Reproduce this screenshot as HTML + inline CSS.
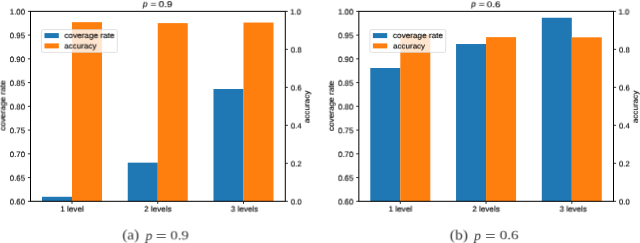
<!DOCTYPE html>
<html><head><meta charset="utf-8"><style>
html,body{margin:0;padding:0;background:#fff;width:640px;height:243px;overflow:hidden}
svg.M{display:block;position:absolute;left:0;top:0}
svg.L{position:absolute;left:0;top:0;overflow:visible;transform-origin:0 0}
body{position:relative}
text{text-rendering:geometricPrecision;fill:#000;font-family:"Liberation Sans",sans-serif;stroke:#000;stroke-width:0.12px}
text.s{stroke-width:0.0px;fill:#333;stroke:#333}
text.t{stroke-width:0.12px}
text.s{font-family:"Liberation Serif",serif}
</style></head><body>
<svg class="M" width="640" height="243" viewBox="0 0 640 243">
<rect x="42.00" y="196.78" width="30.00" height="4.52" fill="#1f77b4"/>
<rect x="127.75" y="162.64" width="30.00" height="38.66" fill="#1f77b4"/>
<rect x="213.50" y="89.01" width="30.00" height="112.29" fill="#1f77b4"/>
<rect x="72.00" y="22.16" width="30.00" height="179.14" fill="#ff7f0e"/>
<rect x="157.75" y="23.11" width="30.00" height="178.19" fill="#ff7f0e"/>
<rect x="243.50" y="22.54" width="30.00" height="178.76" fill="#ff7f0e"/>
<rect x="30.50" y="11.35" width="254.80" height="189.95" fill="none" stroke="#000" stroke-width="1.0"/>
<line x1="27.90" y1="201.30" x2="30.50" y2="201.30" stroke="#000" stroke-width="0.8"/>
<line x1="27.90" y1="177.56" x2="30.50" y2="177.56" stroke="#000" stroke-width="0.8"/>
<line x1="27.90" y1="153.81" x2="30.50" y2="153.81" stroke="#000" stroke-width="0.8"/>
<line x1="27.90" y1="130.07" x2="30.50" y2="130.07" stroke="#000" stroke-width="0.8"/>
<line x1="27.90" y1="106.32" x2="30.50" y2="106.32" stroke="#000" stroke-width="0.8"/>
<line x1="27.90" y1="82.58" x2="30.50" y2="82.58" stroke="#000" stroke-width="0.8"/>
<line x1="27.90" y1="58.84" x2="30.50" y2="58.84" stroke="#000" stroke-width="0.8"/>
<line x1="27.90" y1="35.09" x2="30.50" y2="35.09" stroke="#000" stroke-width="0.8"/>
<line x1="27.90" y1="11.35" x2="30.50" y2="11.35" stroke="#000" stroke-width="0.8"/>
<line x1="285.30" y1="201.30" x2="287.90" y2="201.30" stroke="#000" stroke-width="0.8"/>
<line x1="285.30" y1="163.31" x2="287.90" y2="163.31" stroke="#000" stroke-width="0.8"/>
<line x1="285.30" y1="125.32" x2="287.90" y2="125.32" stroke="#000" stroke-width="0.8"/>
<line x1="285.30" y1="87.33" x2="287.90" y2="87.33" stroke="#000" stroke-width="0.8"/>
<line x1="285.30" y1="49.34" x2="287.90" y2="49.34" stroke="#000" stroke-width="0.8"/>
<line x1="285.30" y1="11.35" x2="287.90" y2="11.35" stroke="#000" stroke-width="0.8"/>
<line x1="72.00" y1="201.30" x2="72.00" y2="203.90" stroke="#000" stroke-width="0.8"/>
<line x1="157.75" y1="201.30" x2="157.75" y2="203.90" stroke="#000" stroke-width="0.8"/>
<line x1="243.50" y1="201.30" x2="243.50" y2="203.90" stroke="#000" stroke-width="0.8"/>
<rect x="41.50" y="29.60" width="75.80" height="22.80" rx="1.4" fill="#fff" fill-opacity="0.8" stroke="#cccccc" stroke-width="0.6"/>
<rect x="44.50" y="33.1" width="14.3" height="5.0" fill="#1f77b4"/>
<rect x="44.50" y="43.4" width="14.3" height="5.0" fill="#ff7f0e"/>
<rect x="370.30" y="68.01" width="30.00" height="133.29" fill="#1f77b4"/>
<rect x="456.05" y="44.02" width="30.00" height="157.28" fill="#1f77b4"/>
<rect x="541.80" y="17.75" width="30.00" height="183.55" fill="#1f77b4"/>
<rect x="400.30" y="34.68" width="30.00" height="166.62" fill="#ff7f0e"/>
<rect x="486.05" y="37.14" width="30.00" height="164.16" fill="#ff7f0e"/>
<rect x="571.80" y="37.33" width="30.00" height="163.97" fill="#ff7f0e"/>
<rect x="358.85" y="11.35" width="254.65" height="189.95" fill="none" stroke="#000" stroke-width="1.0"/>
<line x1="356.25" y1="201.30" x2="358.85" y2="201.30" stroke="#000" stroke-width="0.8"/>
<line x1="356.25" y1="177.56" x2="358.85" y2="177.56" stroke="#000" stroke-width="0.8"/>
<line x1="356.25" y1="153.81" x2="358.85" y2="153.81" stroke="#000" stroke-width="0.8"/>
<line x1="356.25" y1="130.07" x2="358.85" y2="130.07" stroke="#000" stroke-width="0.8"/>
<line x1="356.25" y1="106.32" x2="358.85" y2="106.32" stroke="#000" stroke-width="0.8"/>
<line x1="356.25" y1="82.58" x2="358.85" y2="82.58" stroke="#000" stroke-width="0.8"/>
<line x1="356.25" y1="58.84" x2="358.85" y2="58.84" stroke="#000" stroke-width="0.8"/>
<line x1="356.25" y1="35.09" x2="358.85" y2="35.09" stroke="#000" stroke-width="0.8"/>
<line x1="356.25" y1="11.35" x2="358.85" y2="11.35" stroke="#000" stroke-width="0.8"/>
<line x1="613.50" y1="201.30" x2="616.10" y2="201.30" stroke="#000" stroke-width="0.8"/>
<line x1="613.50" y1="163.31" x2="616.10" y2="163.31" stroke="#000" stroke-width="0.8"/>
<line x1="613.50" y1="125.32" x2="616.10" y2="125.32" stroke="#000" stroke-width="0.8"/>
<line x1="613.50" y1="87.33" x2="616.10" y2="87.33" stroke="#000" stroke-width="0.8"/>
<line x1="613.50" y1="49.34" x2="616.10" y2="49.34" stroke="#000" stroke-width="0.8"/>
<line x1="613.50" y1="11.35" x2="616.10" y2="11.35" stroke="#000" stroke-width="0.8"/>
<line x1="400.30" y1="201.30" x2="400.30" y2="203.90" stroke="#000" stroke-width="0.8"/>
<line x1="486.05" y1="201.30" x2="486.05" y2="203.90" stroke="#000" stroke-width="0.8"/>
<line x1="571.80" y1="201.30" x2="571.80" y2="203.90" stroke="#000" stroke-width="0.8"/>
<rect x="369.90" y="29.60" width="75.80" height="22.80" rx="1.4" fill="#fff" fill-opacity="0.8" stroke="#cccccc" stroke-width="0.6"/>
<rect x="372.90" y="33.1" width="14.3" height="5.0" fill="#1f77b4"/>
<rect x="372.90" y="43.4" width="14.3" height="5.0" fill="#ff7f0e"/>
</svg>
<svg class="L" width="140" height="48" style="transform:translate3d(-44.970px,180.470px,0) rotate(0.001deg)"><text x="70" y="24" font-size="7.750" text-anchor="end" textLength="15.200" lengthAdjust="spacingAndGlyphs">0.60</text></svg>
<svg class="L" width="140" height="48" style="transform:translate3d(-44.970px,156.726px,0) rotate(0.001deg)"><text x="70" y="24" font-size="7.750" text-anchor="end" textLength="15.200" lengthAdjust="spacingAndGlyphs">0.65</text></svg>
<svg class="L" width="140" height="48" style="transform:translate3d(-44.970px,132.983px,0) rotate(0.001deg)"><text x="70" y="24" font-size="7.750" text-anchor="end" textLength="15.200" lengthAdjust="spacingAndGlyphs">0.70</text></svg>
<svg class="L" width="140" height="48" style="transform:translate3d(-44.970px,109.239px,0) rotate(0.001deg)"><text x="70" y="24" font-size="7.750" text-anchor="end" textLength="15.200" lengthAdjust="spacingAndGlyphs">0.75</text></svg>
<svg class="L" width="140" height="48" style="transform:translate3d(-44.970px,85.495px,0) rotate(0.001deg)"><text x="70" y="24" font-size="7.750" text-anchor="end" textLength="15.200" lengthAdjust="spacingAndGlyphs">0.80</text></svg>
<svg class="L" width="140" height="48" style="transform:translate3d(-44.970px,61.751px,0) rotate(0.001deg)"><text x="70" y="24" font-size="7.750" text-anchor="end" textLength="15.200" lengthAdjust="spacingAndGlyphs">0.85</text></svg>
<svg class="L" width="140" height="48" style="transform:translate3d(-44.970px,38.007px,0) rotate(0.001deg)"><text x="70" y="24" font-size="7.750" text-anchor="end" textLength="15.200" lengthAdjust="spacingAndGlyphs">0.90</text></svg>
<svg class="L" width="140" height="48" style="transform:translate3d(-44.970px,14.264px,0) rotate(0.001deg)"><text x="70" y="24" font-size="7.750" text-anchor="end" textLength="15.200" lengthAdjust="spacingAndGlyphs">0.95</text></svg>
<svg class="L" width="140" height="48" style="transform:translate3d(-44.970px,-9.480px,0) rotate(0.001deg)"><text x="70" y="24" font-size="7.750" text-anchor="end" textLength="15.200" lengthAdjust="spacingAndGlyphs">1.00</text></svg>
<svg class="L" width="140" height="48" style="transform:translate3d(220.800px,180.470px,0) rotate(0.001deg)"><text x="70" y="24" font-size="7.700" textLength="10.700" lengthAdjust="spacingAndGlyphs">0.0</text></svg>
<svg class="L" width="140" height="48" style="transform:translate3d(220.800px,142.480px,0) rotate(0.001deg)"><text x="70" y="24" font-size="7.700" textLength="10.700" lengthAdjust="spacingAndGlyphs">0.2</text></svg>
<svg class="L" width="140" height="48" style="transform:translate3d(220.800px,104.490px,0) rotate(0.001deg)"><text x="70" y="24" font-size="7.700" textLength="10.700" lengthAdjust="spacingAndGlyphs">0.4</text></svg>
<svg class="L" width="140" height="48" style="transform:translate3d(220.800px,66.500px,0) rotate(0.001deg)"><text x="70" y="24" font-size="7.700" textLength="10.700" lengthAdjust="spacingAndGlyphs">0.6</text></svg>
<svg class="L" width="140" height="48" style="transform:translate3d(220.800px,28.510px,0) rotate(0.001deg)"><text x="70" y="24" font-size="7.700" textLength="10.700" lengthAdjust="spacingAndGlyphs">0.8</text></svg>
<svg class="L" width="140" height="48" style="transform:translate3d(220.300px,-9.480px,0) rotate(0.001deg)"><text x="70" y="24" font-size="7.700" textLength="10.700" lengthAdjust="spacingAndGlyphs">1.0</text></svg>
<svg class="L" width="140" height="48" style="transform:translate3d(2.100px,187.600px,0) rotate(0.001deg)"><text x="70" y="24" font-size="7.780" text-anchor="middle" textLength="23.750" lengthAdjust="spacingAndGlyphs">1 level</text></svg>
<svg class="L" width="140" height="48" style="transform:translate3d(87.850px,187.600px,0) rotate(0.001deg)"><text x="70" y="24" font-size="7.780" text-anchor="middle" textLength="27.600" lengthAdjust="spacingAndGlyphs">2 levels</text></svg>
<svg class="L" width="140" height="48" style="transform:translate3d(174.600px,187.600px,0) rotate(0.001deg)"><text x="70" y="24" font-size="7.780" text-anchor="middle" textLength="27.300" lengthAdjust="spacingAndGlyphs">3 levels</text></svg>
<svg class="L" width="140" height="48" style="transform:translate3d(-5.584px,14.038px,0) rotate(0.001deg)"><text x="70" y="24" font-size="7.753" textLength="50.191" lengthAdjust="spacingAndGlyphs">coverage rate</text></svg>
<svg class="L" width="140" height="48" style="transform:translate3d(-5.688px,24.505px,0) rotate(0.001deg)"><text x="70" y="24" font-size="7.723" textLength="32.256" lengthAdjust="spacingAndGlyphs">accuracy</text></svg>
<svg class="L" width="140" height="48" style="transform:translate3d(283.380px,180.470px,0) rotate(0.001deg)"><text x="70" y="24" font-size="7.750" text-anchor="end" textLength="15.200" lengthAdjust="spacingAndGlyphs">0.60</text></svg>
<svg class="L" width="140" height="48" style="transform:translate3d(283.380px,156.726px,0) rotate(0.001deg)"><text x="70" y="24" font-size="7.750" text-anchor="end" textLength="15.200" lengthAdjust="spacingAndGlyphs">0.65</text></svg>
<svg class="L" width="140" height="48" style="transform:translate3d(283.380px,132.983px,0) rotate(0.001deg)"><text x="70" y="24" font-size="7.750" text-anchor="end" textLength="15.200" lengthAdjust="spacingAndGlyphs">0.70</text></svg>
<svg class="L" width="140" height="48" style="transform:translate3d(283.380px,109.239px,0) rotate(0.001deg)"><text x="70" y="24" font-size="7.750" text-anchor="end" textLength="15.200" lengthAdjust="spacingAndGlyphs">0.75</text></svg>
<svg class="L" width="140" height="48" style="transform:translate3d(283.380px,85.495px,0) rotate(0.001deg)"><text x="70" y="24" font-size="7.750" text-anchor="end" textLength="15.200" lengthAdjust="spacingAndGlyphs">0.80</text></svg>
<svg class="L" width="140" height="48" style="transform:translate3d(283.380px,61.751px,0) rotate(0.001deg)"><text x="70" y="24" font-size="7.750" text-anchor="end" textLength="15.200" lengthAdjust="spacingAndGlyphs">0.85</text></svg>
<svg class="L" width="140" height="48" style="transform:translate3d(283.380px,38.007px,0) rotate(0.001deg)"><text x="70" y="24" font-size="7.750" text-anchor="end" textLength="15.200" lengthAdjust="spacingAndGlyphs">0.90</text></svg>
<svg class="L" width="140" height="48" style="transform:translate3d(283.380px,14.264px,0) rotate(0.001deg)"><text x="70" y="24" font-size="7.750" text-anchor="end" textLength="15.200" lengthAdjust="spacingAndGlyphs">0.95</text></svg>
<svg class="L" width="140" height="48" style="transform:translate3d(283.380px,-9.480px,0) rotate(0.001deg)"><text x="70" y="24" font-size="7.750" text-anchor="end" textLength="15.200" lengthAdjust="spacingAndGlyphs">1.00</text></svg>
<svg class="L" width="140" height="48" style="transform:translate3d(549.000px,180.470px,0) rotate(0.001deg)"><text x="70" y="24" font-size="7.700" textLength="10.700" lengthAdjust="spacingAndGlyphs">0.0</text></svg>
<svg class="L" width="140" height="48" style="transform:translate3d(549.000px,142.480px,0) rotate(0.001deg)"><text x="70" y="24" font-size="7.700" textLength="10.700" lengthAdjust="spacingAndGlyphs">0.2</text></svg>
<svg class="L" width="140" height="48" style="transform:translate3d(549.000px,104.490px,0) rotate(0.001deg)"><text x="70" y="24" font-size="7.700" textLength="10.700" lengthAdjust="spacingAndGlyphs">0.4</text></svg>
<svg class="L" width="140" height="48" style="transform:translate3d(549.000px,66.500px,0) rotate(0.001deg)"><text x="70" y="24" font-size="7.700" textLength="10.700" lengthAdjust="spacingAndGlyphs">0.6</text></svg>
<svg class="L" width="140" height="48" style="transform:translate3d(549.000px,28.510px,0) rotate(0.001deg)"><text x="70" y="24" font-size="7.700" textLength="10.700" lengthAdjust="spacingAndGlyphs">0.8</text></svg>
<svg class="L" width="140" height="48" style="transform:translate3d(548.500px,-9.480px,0) rotate(0.001deg)"><text x="70" y="24" font-size="7.700" textLength="10.700" lengthAdjust="spacingAndGlyphs">1.0</text></svg>
<svg class="L" width="140" height="48" style="transform:translate3d(330.400px,187.600px,0) rotate(0.001deg)"><text x="70" y="24" font-size="7.780" text-anchor="middle" textLength="23.750" lengthAdjust="spacingAndGlyphs">1 level</text></svg>
<svg class="L" width="140" height="48" style="transform:translate3d(416.150px,187.600px,0) rotate(0.001deg)"><text x="70" y="24" font-size="7.780" text-anchor="middle" textLength="27.600" lengthAdjust="spacingAndGlyphs">2 levels</text></svg>
<svg class="L" width="140" height="48" style="transform:translate3d(503.400px,187.600px,0) rotate(0.001deg)"><text x="70" y="24" font-size="7.780" text-anchor="middle" textLength="27.300" lengthAdjust="spacingAndGlyphs">3 levels</text></svg>
<svg class="L" width="140" height="48" style="transform:translate3d(322.835px,14.033px,0) rotate(0.001deg)"><text x="70" y="24" font-size="7.759" textLength="50.145" lengthAdjust="spacingAndGlyphs">coverage rate</text></svg>
<svg class="L" width="140" height="48" style="transform:translate3d(323.020px,24.530px,0) rotate(0.001deg)"><text x="70" y="24" font-size="7.662" textLength="32.137" lengthAdjust="spacingAndGlyphs">accuracy</text></svg>
<svg class="L" width="140" height="48" style="transform:translate3d(72.844px,-17.310px,0) rotate(0.001deg)"><text x="70" y="24" font-size="8.362" class="t" font-style="italic">p</text></svg>
<svg class="L" width="140" height="48" style="transform:translate3d(80.631px,-17.202px,0) rotate(0.001deg)"><text x="70" y="24" font-size="7.640" class="t" textLength="5.663" lengthAdjust="spacingAndGlyphs">=</text></svg>
<svg class="L" width="140" height="48" style="transform:translate3d(88.612px,-16.820px,0) rotate(0.001deg)"><text x="70" y="24" font-size="8.490" class="t" textLength="13.750" lengthAdjust="spacingAndGlyphs">0.9</text></svg>
<svg class="L" width="140" height="48" style="transform:translate3d(401.316px,-17.348px,0) rotate(0.001deg)"><text x="70" y="24" font-size="8.260" class="t" font-style="italic">p</text></svg>
<svg class="L" width="140" height="48" style="transform:translate3d(408.761px,-17.200px,0) rotate(0.001deg)"><text x="70" y="24" font-size="7.620" class="t" textLength="5.950" lengthAdjust="spacingAndGlyphs">=</text></svg>
<svg class="L" width="140" height="48" style="transform:translate3d(416.705px,-16.758px,0) rotate(0.001deg)"><text x="70" y="24" font-size="8.337" class="t" textLength="13.653" lengthAdjust="spacingAndGlyphs">0.6</text></svg>
<svg class="L" width="140" height="48" style="transform:translate3d(52.329px,215.458px,0) rotate(0.001deg)"><text x="70" y="24" font-size="14.328" class="s" textLength="16.943" lengthAdjust="spacingAndGlyphs">(a)</text></svg>
<svg class="L" width="140" height="48" style="transform:translate3d(75.554px,216.074px,0) rotate(0.001deg)"><text x="70" y="24" font-size="13.623" class="s" font-style="italic">p</text></svg>
<svg class="L" width="140" height="48" style="transform:translate3d(85.680px,216.996px,0) rotate(0.001deg)"><text x="70" y="24" font-size="14.903" class="s" textLength="11.048" lengthAdjust="spacingAndGlyphs">=</text></svg>
<svg class="L" width="140" height="48" style="transform:translate3d(100.400px,215.387px,0) rotate(0.001deg)"><text x="70" y="24" font-size="12.585" class="s" textLength="18.491" lengthAdjust="spacingAndGlyphs">0.9</text></svg>
<svg class="L" width="140" height="48" style="transform:translate3d(379.766px,215.600px,0) rotate(0.001deg)"><text x="70" y="24" font-size="14.153" class="s" textLength="18.226" lengthAdjust="spacingAndGlyphs">(b)</text></svg>
<svg class="L" width="140" height="48" style="transform:translate3d(404.159px,216.108px,0) rotate(0.001deg)"><text x="70" y="24" font-size="13.671" class="s" font-style="italic">p</text></svg>
<svg class="L" width="140" height="48" style="transform:translate3d(415.071px,216.996px,0) rotate(0.001deg)"><text x="70" y="24" font-size="14.928" class="s" textLength="10.708" lengthAdjust="spacingAndGlyphs">=</text></svg>
<svg class="L" width="140" height="48" style="transform:translate3d(429.681px,215.126px,0) rotate(0.001deg)"><text x="70" y="24" font-size="12.388" class="s" textLength="18.940" lengthAdjust="spacingAndGlyphs">0.6</text></svg>
<svg class="L" width="80" height="140" style="transform:translate3d(-34.648px,35.552px,0) rotate(0.001deg)"><text transform="translate(40,70) rotate(-90)" font-size="7.850" text-anchor="middle" textLength="50.475" lengthAdjust="spacingAndGlyphs">coverage rate</text></svg>
<svg class="L" width="80" height="140" style="transform:translate3d(269.447px,36.904px,0) rotate(0.001deg)"><text transform="translate(40,70) rotate(-90)" font-size="7.795" text-anchor="middle" textLength="32.497" lengthAdjust="spacingAndGlyphs">accuracy</text></svg>
<svg class="L" width="80" height="140" style="transform:translate3d(293.819px,35.722px,0) rotate(0.001deg)"><text transform="translate(40,70) rotate(-90)" font-size="7.931" text-anchor="middle" textLength="50.378" lengthAdjust="spacingAndGlyphs">coverage rate</text></svg>
<svg class="L" width="80" height="140" style="transform:translate3d(597.781px,36.882px,0) rotate(0.001deg)"><text transform="translate(40,70) rotate(-90)" font-size="7.782" text-anchor="middle" textLength="32.479" lengthAdjust="spacingAndGlyphs">accuracy</text></svg>
</body></html>
